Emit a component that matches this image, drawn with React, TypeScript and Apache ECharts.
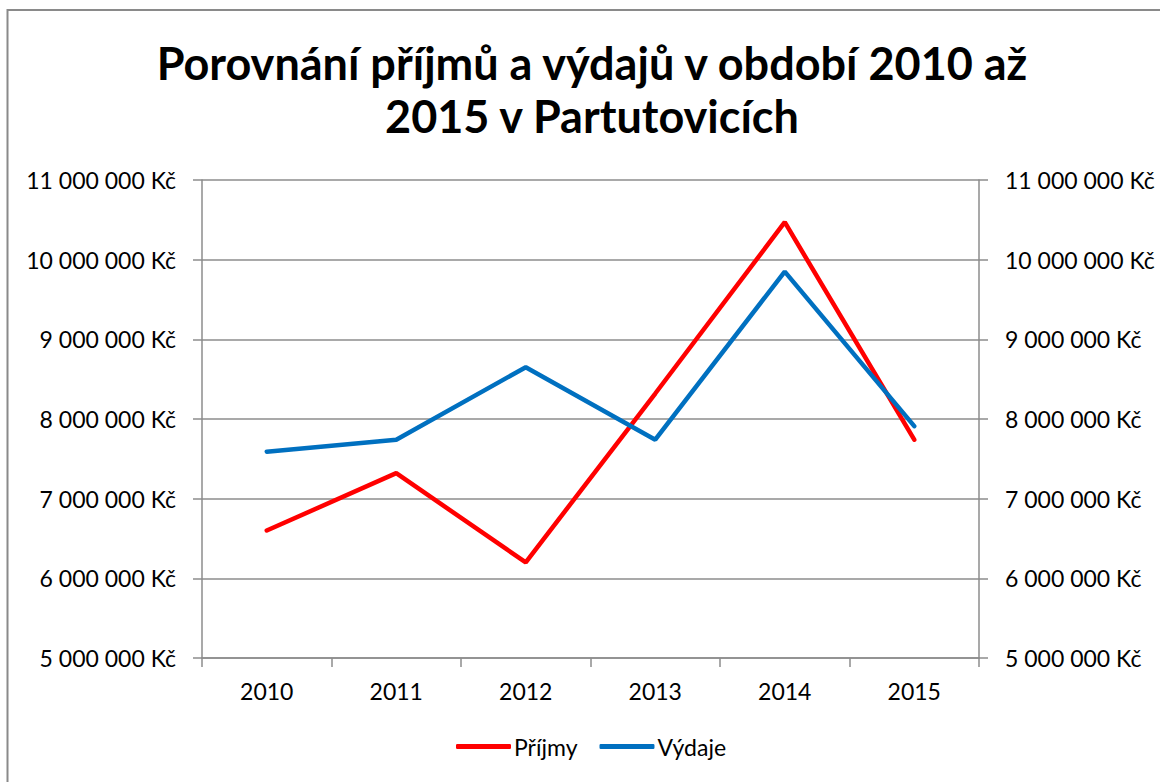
import React, { useEffect, useRef } from "react";
import * as echarts from "echarts";

const categories = ["2010", "2011", "2012", "2013", "2014", "2015"];
const prijmy = [6600000, 7320000, 6200000, 8320000, 10470000, 7740000];
const vydaje = [7590000, 7740000, 8650000, 7740000, 9850000, 7910000];
const seriesNames = ["Příjmy", "Výdaje"];
const titleText = "Porovnání příjmů a výdajů v období 2010 až\n2015 v Partutovicích";
const yMin = 5000000;
const yMax = 11000000;
const yInterval = 1000000;

const fmt = (v: number) =>
  String(Math.round(v)).replace(/\B(?=(\d{3})+(?!\d))/g, " ") + " Kč";

const FONT = "Lato";
const GRID = "#8c8c8c";

export default function App() {
  const ref = useRef<HTMLDivElement>(null);
  useEffect(() => {
    if (!ref.current) return;
    const chart = echarts.init(ref.current, undefined, { renderer: "svg" });
    const yAxisBase = {
      type: "value" as const,
      min: yMin,
      max: yMax,
      interval: yInterval,
      axisLine: { show: true, lineStyle: { color: GRID, width: 1.5 } },
      axisTick: { show: true, length: 9, lineStyle: { color: GRID, width: 1.5 } },
      axisLabel: {
        formatter: fmt,
        color: "#000",
        fontFamily: FONT,
        fontSize: 23,
        margin: 26,
      },
    };
    chart.setOption({
      animation: false,
      backgroundColor: "#fff",
      graphic: [
        {
          type: "rect",
          shape: { x: 7.5, y: 10, width: 1200, height: 820 },
          style: { fill: "none", stroke: "#8a8a8a", lineWidth: 2 },
          silent: true,
        },
        {
          type: "text",
          x: 592,
          y: 36,
          style: {
            text: titleText,
            align: "center",
            verticalAlign: "top",
            font: `bold 45px ${FONT}`,
            lineHeight: 53,
            fill: "#000",
          },
        },
      ],
      legend: {
        data: seriesNames,
        left: 451,
        top: 730,
        itemWidth: 55,
        itemHeight: 5,
        itemGap: 22,
        icon: "roundRect",
        textStyle: { fontFamily: FONT, fontSize: 23, color: "#000", padding: [0, 0, 0, -2] },
      },
      grid: { left: 202, right: 181, top: 180, bottom: 124 },
      xAxis: {
        type: "category",
        data: categories,
        boundaryGap: true,
        axisLine: { show: true, lineStyle: { color: GRID, width: 1.5 } },
        axisTick: { show: true, length: 9, interval: 0, lineStyle: { color: GRID, width: 1.5 } },
        axisLabel: { color: "#000", fontFamily: FONT, fontSize: 23, margin: 21 },
      },
      yAxis: [
        {
          ...yAxisBase,
          position: "left",
          splitLine: { show: true, lineStyle: { color: GRID, width: 1.5 } },
        },
        {
          ...yAxisBase,
          position: "right",
          splitLine: { show: false },
        },
      ],
      series: [
        {
          name: seriesNames[0],
          type: "line",
          data: prijmy,
          showSymbol: false,
          symbol: "none",
          itemStyle: { color: "#FF0000" },
          lineStyle: { color: "#FF0000", width: 4.5, cap: "round" },
        },
        {
          name: seriesNames[1],
          type: "line",
          data: vydaje,
          showSymbol: false,
          symbol: "none",
          itemStyle: { color: "#0070C0" },
          lineStyle: { color: "#0070C0", width: 4.5, cap: "round" },
        },
      ],
    });
    return () => chart.dispose();
  }, []);
  return (
    <div
      ref={ref}
      style={{ position: "fixed", left: 0, top: 0, width: 1160, height: 782 }}
    />
  );
}
